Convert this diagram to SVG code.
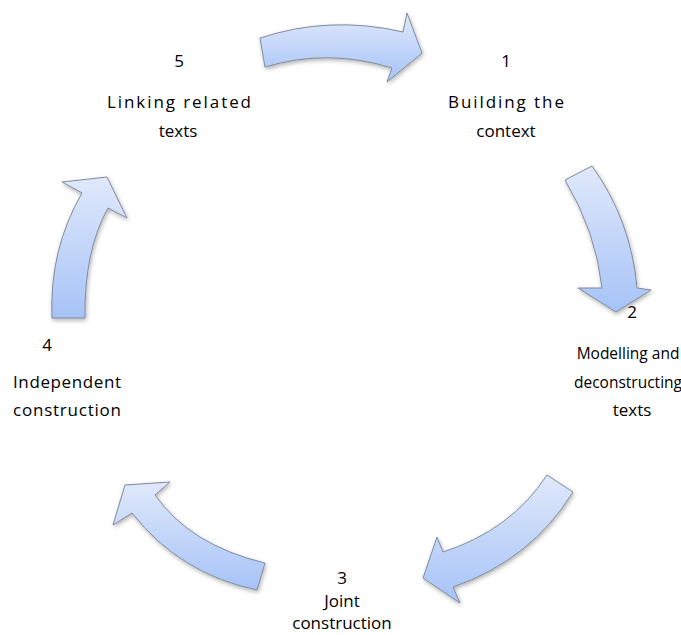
<svg xmlns="http://www.w3.org/2000/svg" width="681" height="635" viewBox="0 0 681 635">
<defs>
<linearGradient id="g" x1="0" y1="0" x2="0" y2="1">
<stop offset="0" stop-color="#e0e9fb"/>
<stop offset="1" stop-color="#a6c3f7"/>
</linearGradient>
<filter id="sh" x="-20%" y="-20%" width="140%" height="140%">
<feDropShadow dx="1" dy="2" stdDeviation="2" flood-color="#000" flood-opacity="0.3"/>
</filter>
</defs>
<style>
.arr{fill:url(#g);stroke:#7f8a9c;stroke-width:1;filter:url(#sh)}
.t{font-family:"Open Sans","Liberation Sans",sans-serif;font-size:17px;fill:#000;text-anchor:middle}
.s{font-size:15.5px}
</style>
<rect width="681" height="635" fill="#fff"/>
<g id="connectors">
<path class="arr" d="M260,38 Q330,15 403,32 L407,13 L422,53 L387,82 L392,68 Q328,48 265,67 Z"/>
<path class="arr" d="M565,180 L592,166 Q631,220 637,288 L651,290 L616,312 L578,288 L602,288 Q596,232 565,180 Z"/>
<path class="arr" d="M547,475 L573,492 Q531,560 453,587 L460,603 L423,578 L437,537 L443,552 Q511,530 547,475 Z"/>
<path class="arr" d="M265,563 L257,590 Q180,574 132,513 L113,525 L125,485 L170,482 L155,495 Q190,545 265,563 Z"/>
<path class="arr" d="M52,318 L85,318 Q84,251 108,208 L127,218 L107,177 L62,182 L82,193 Q49,250 52,318 Z"/>
</g>
<g id="node1">
<text class="t" x="506" y="67">1</text>
<text class="t" x="506" y="108" textLength="116" lengthAdjust="spacing">Building the</text>
<text class="t" x="506" y="137">context</text>
</g>
<g id="node2">
<text class="t" x="632" y="318">2</text>
<text class="t s" x="628" y="359">Modelling and</text>
<text class="t s" x="628" y="388">deconstructing</text>
<text class="t" x="632" y="416">texts</text>
</g>
<g id="node3">
<text class="t" x="342" y="584">3</text>
<text class="t" x="342" y="607">Joint</text>
<text class="t" x="342" y="629">construction</text>
</g>
<g id="node4">
<text class="t" x="47" y="351">4</text>
<text class="t" x="67" y="388" textLength="108" lengthAdjust="spacing">Independent</text>
<text class="t" x="67" y="416" textLength="108" lengthAdjust="spacing">construction</text>
</g>
<g id="node5">
<text class="t" x="179" y="67">5</text>
<text class="t" x="179" y="108" textLength="144" lengthAdjust="spacing">Linking related</text>
<text class="t" x="178" y="137">texts</text>
</g>
</svg>
